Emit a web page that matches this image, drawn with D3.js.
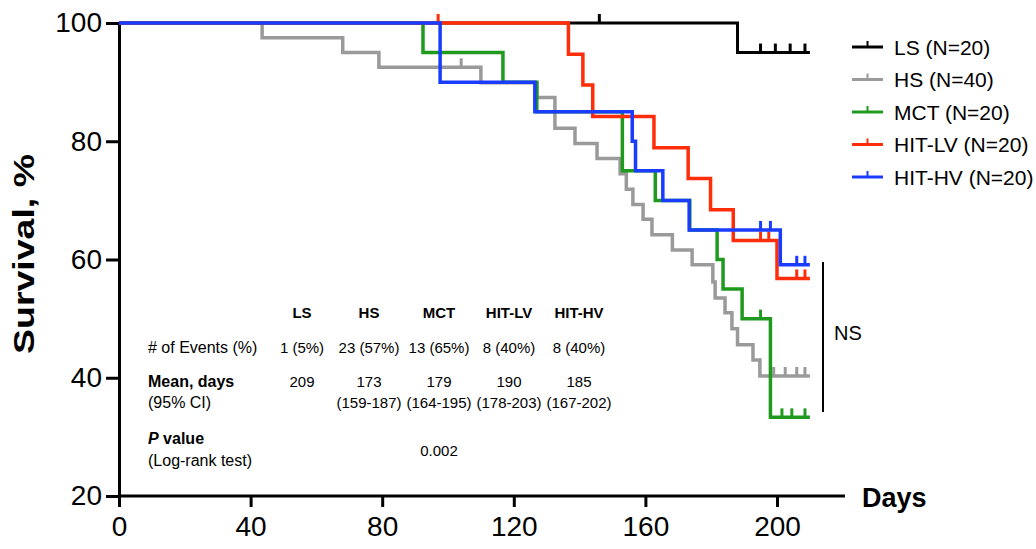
<!DOCTYPE html>
<html><head><meta charset="utf-8">
<script src="https://cdn.jsdelivr.net/npm/d3@7"></script>
<style>
body{margin:0;background:#fff;}
svg text{font-family:"Liberation Sans",Arial,sans-serif;fill:#000;}
</style></head>
<body><svg id="chart" width="1036" height="549"></svg>
<script>
// ---- data ----
const xTicks = [0, 40, 80, 120, 160, 200];
const yTicks = [20, 40, 60, 80, 100];
const groupNames = ["LS (N=20)", "HS (N=40)", "MCT (N=20)", "HIT-LV (N=20)", "HIT-HV (N=20)"];
const groupColors = ["#000000", "#9a9a9a", "#1f9a1f", "#ff2e0a", "#1a3cff"];
const endDay = [210, 210, 210, 210, 210];

// step points: [day of event, survival % after event]
const lsSteps = [[0, 100], [188, 95]];
const hsSteps = [[0, 100], [43.5, 97.5], [68, 95], [79, 92.5], [110, 89.9], [127, 87.4],
  [132.5, 82.2], [138.6, 79.6], [145.3, 77.1], [152.3, 74.5], [154.2, 71.9], [156.2, 69.3],
  [159.3, 66.8], [162, 64.2], [168.2, 61.6], [174.2, 59.1], [180.5, 56.2], [181.2, 53.5],
  [184.2, 51], [186.3, 48.3], [188, 45.6], [192.7, 43], [194.8, 40.3]];
const mctSteps = [[0, 100], [92.4, 95], [116.7, 90], [127, 85], [153, 75], [163, 70],
  [173.5, 65], [181.8, 60], [183.6, 55], [189.4, 50], [198, 33.3]];
const lvSteps = [[0, 100], [136.6, 94.7], [141, 89.5], [144, 84.2], [162.6, 78.9],
  [173, 73.7], [179.8, 68.4], [186.7, 63.2], [200, 56.8]];
const hvSteps = [[0, 100], [97.6, 90], [126.4, 85], [156, 80], [157, 75], [165.3, 70],
  [173.3, 65], [201, 59.1]];

// censored observations (days)
const lsCensor = [146, 195, 199.5, 204, 208.5];
const hsCensor = [104, 199, 202.5, 206, 208.5];
const mctCensor = [195, 201.5, 204.5, 208.5];
const lvCensor = [97, 195, 197.5, 206, 208.5];
const hvCensor = [195, 198, 206, 208.5];

// table
const tableCols = ["LS", "HS", "MCT", "HIT-LV", "HIT-HV"];
const eventsRow = ["1 (5%)", "23 (57%)", "13 (65%)", "8 (40%)", "8 (40%)"];
const meanRow = ["209", "173", "179", "190", "185"];
const ciRow = ["", "(159-187)", "(164-195)", "(178-203)", "(167-202)"];
const pValue = "0.002";

// ---- drawing ----
const svg = d3.select("#chart");
const x = d3.scaleLinear().domain([0, 200]).range([119, 777]);
const y = d3.scaleLinear().domain([20, 100]).range([496, 23]);

const allSteps = [lsSteps, hsSteps, mctSteps, lvSteps, hvSteps];
const allCensor = [lsCensor, hsCensor, mctCensor, lvCensor, hvCensor];

function survAt(steps, d) {
  let s = steps[0][1];
  for (const p of steps) if (p[0] <= d) s = p[1];
  return s;
}

// axes
const yAxis = d3.axisLeft(y).tickValues(yTicks).tickSize(13).tickPadding(4).tickSizeOuter(0);
const gy = svg.append("g").attr("transform", "translate(119,0)").call(yAxis);
const xAxis = d3.axisBottom(x).tickValues(xTicks).tickSize(11).tickPadding(6).tickSizeOuter(0);
const gx = svg.append("g").attr("transform", "translate(0,496)").call(xAxis);
[gy, gx].forEach(g => {
  g.select(".domain").attr("stroke", "#000").attr("stroke-width", 3);
  g.selectAll(".tick line").attr("stroke", "#000").attr("stroke-width", 3);
  g.selectAll(".tick text").style("font-size", "28px").attr("fill", "#000");
});
gx.select(".domain").attr("d", "M119,0H845");
gx.selectAll(".tick text").attr("dy", "0.82em");

// curves
const line = d3.line().curve(d3.curveStepAfter).x(d => x(d[0])).y(d => y(d[1]));
allSteps.forEach((steps, i) => {
  const pts = steps.concat([[endDay[i], steps[steps.length - 1][1]]]);
  svg.append("path").datum(pts).attr("d", line)
    .attr("fill", "none").attr("stroke", groupColors[i]).attr("stroke-width", i === 0 ? 3 : 3.5)
    .attr("stroke-linejoin", "miter");
  svg.append("g").selectAll("line").data(allCensor[i]).join("line")
    .attr("x1", d => x(d)).attr("x2", d => x(d))
    .attr("y1", d => y(survAt(steps, d))).attr("y2", d => y(survAt(steps, d)) - 9)
    .attr("stroke", groupColors[i]).attr("stroke-width", 3);
});

// axis titles
svg.append("text").attr("transform", "translate(34,254) scale(1,1.25) rotate(-90)")
  .attr("text-anchor", "middle").style("font-size", "30px").style("font-weight", "bold")
  .text("Survival, %");
svg.append("text").attr("x", 862).attr("y", 507).style("font-size", "27px")
  .style("font-weight", "bold").text("Days");

// legend
const leg = svg.append("g");
groupNames.forEach((n, i) => {
  const cy = 47 + i * 32.5;
  leg.append("line").attr("x1", 852).attr("x2", 883).attr("y1", cy).attr("y2", cy)
    .attr("stroke", groupColors[i]).attr("stroke-width", 3);
  leg.append("line").attr("x1", 867.5).attr("x2", 867.5).attr("y1", cy).attr("y2", cy - 6)
    .attr("stroke", groupColors[i]).attr("stroke-width", 2);
  leg.append("text").attr("x", 894).attr("y", cy + 7.5).style("font-size", "21px").text(n);
});

// NS bracket
svg.append("line").attr("x1", 823).attr("x2", 823).attr("y1", 262).attr("y2", 412)
  .attr("stroke", "#000").attr("stroke-width", 2);
svg.append("text").attr("x", 834).attr("y", 340).style("font-size", "20px").text("NS");

// table
const colX = [302, 369, 439, 509, 579];
const tb = svg.append("g").style("font-size", "15px");
tableCols.forEach((c, i) => tb.append("text").attr("x", colX[i]).attr("y", 318)
  .attr("text-anchor", "middle").style("font-weight", "bold").text(c));
eventsRow.forEach((c, i) => tb.append("text").attr("x", colX[i]).attr("y", 353)
  .attr("text-anchor", "middle").text(c));
meanRow.forEach((c, i) => tb.append("text").attr("x", colX[i]).attr("y", 387)
  .attr("text-anchor", "middle").text(c));
ciRow.forEach((c, i) => tb.append("text").attr("x", colX[i]).attr("y", 408)
  .attr("text-anchor", "middle").text(c));
tb.append("text").attr("x", colX[2]).attr("y", 456).attr("text-anchor", "middle").text(pValue);
const lbl = tb.append("g").style("font-size", "16px");
lbl.append("text").attr("x", 148).attr("y", 353).text("# of Events (%)");
lbl.append("text").attr("x", 148).attr("y", 387).style("font-weight", "bold").text("Mean, days");
lbl.append("text").attr("x", 148).attr("y", 408).text("(95% CI)");
const pv = lbl.append("text").attr("x", 148).attr("y", 444).style("font-weight", "bold");
pv.append("tspan").style("font-style", "italic").text("P");
pv.append("tspan").text(" value");
lbl.append("text").attr("x", 148).attr("y", 466).text("(Log-rank test)");
</script></body></html>
